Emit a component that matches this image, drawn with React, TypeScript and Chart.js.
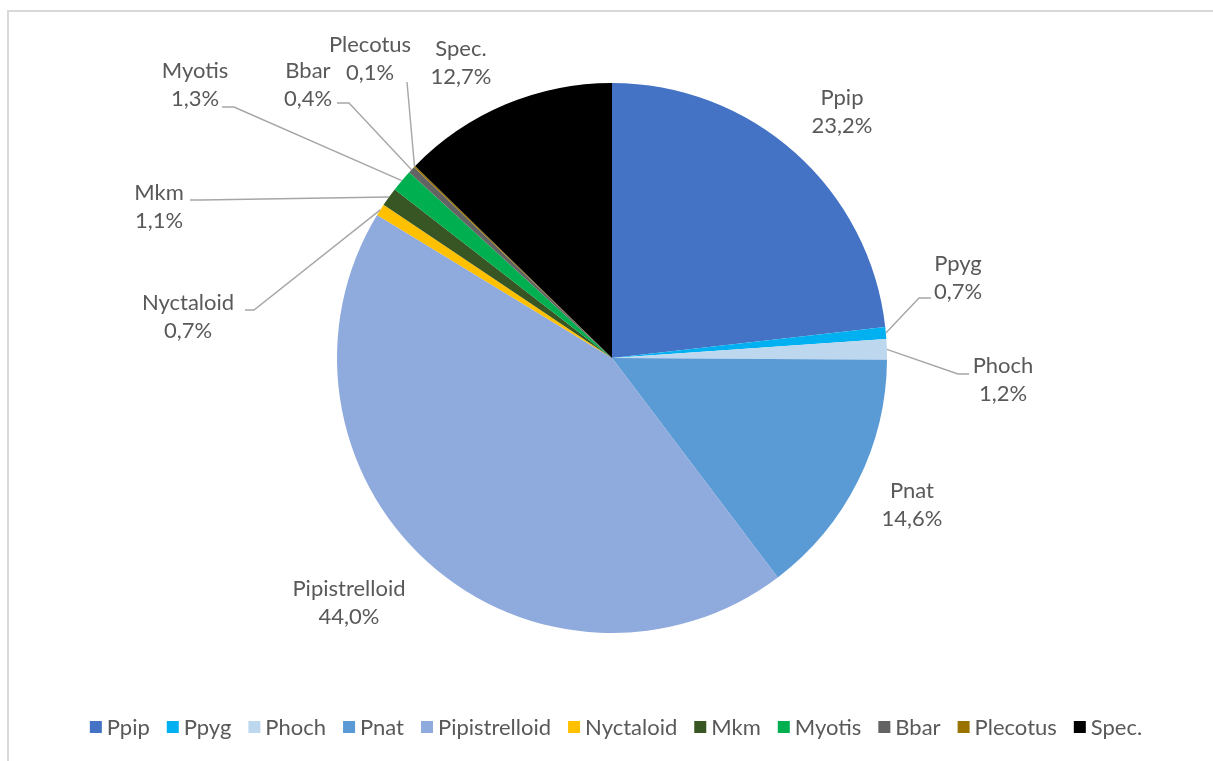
import React, { useEffect, useRef } from 'react';
import { Chart, registerables } from 'chart.js';

Chart.register(...registerables);

const categories = ['Ppip', 'Ppyg', 'Phoch', 'Pnat', 'Pipistrelloid', 'Nyctaloid', 'Mkm', 'Myotis', 'Bbar', 'Plecotus', 'Spec.'];
const shares = [23.2, 0.7, 1.2, 14.6, 44.0, 0.7, 1.1, 1.3, 0.4, 0.1, 12.7];
const shareLabels = ['23,2%', '0,7%', '1,2%', '14,6%', '44,0%', '0,7%', '1,1%', '1,3%', '0,4%', '0,1%', '12,7%'];
const colors = ['#4472C4', '#00B0F0', '#BDD7EE', '#5B9BD5', '#8FAADC', '#FFC000', '#375623', '#00B050', '#636363', '#997300', '#000000'];

// label placement: first text line centre, offset from pie centre (px)
const labelOffsets: [number, number][] = [
  [230, -260], [346, -94], [391, 8], [300, 133], [-263, 231], [-424, -55],
  [-453, -165], [-417, -287], [-304, -287], [-242, -313], [-151, -309],
];
// leader lines: [elbow, end] offsets from pie centre, null = none
const leaders: ([number, number][] | null)[] = [
  null,
  [[307, -60], [319, -60]],
  [[346, 16], [357, 16]],
  null,
  null,
  [[-358, -48], [-367, -48]],
  [[-411, -158], [-422, -158]],
  [[-378, -251], [-390, -251]],
  [[-263, -255], [-275, -255]],
  [[-205, -276], [-205, -276]],
  null,
];

const FONT_FAMILY = 'Lato, "Open Sans", sans-serif';
const FONT_SIZE = 22;
const TEXT_COLOR = '#595959';

const labelPlugin = {
  id: 'pieLabels',
  afterDatasetsDraw(chart: any) {
    const ctx = chart.ctx;
    const meta = chart.getDatasetMeta(0);
    ctx.save();
    meta.data.forEach((arc: any, i: number) => {
      const { x, y, startAngle, endAngle, outerRadius } = arc.getProps(['x', 'y', 'startAngle', 'endAngle', 'outerRadius'], true);
      const mid = (startAngle + endAngle) / 2;
      const lead = leaders[i];
      if (lead) {
        ctx.strokeStyle = '#a6a6a6';
        ctx.lineWidth = 1.4;
        ctx.beginPath();
        ctx.moveTo(x + Math.cos(mid) * outerRadius, y + Math.sin(mid) * outerRadius);
        lead.forEach((p) => ctx.lineTo(x + p[0], y + p[1]));
        ctx.stroke();
      }
      const [dx, dy] = labelOffsets[i];
      ctx.fillStyle = TEXT_COLOR;
      ctx.font = `${FONT_SIZE}px ${FONT_FAMILY}`;
      ctx.textAlign = 'center';
      ctx.textBaseline = 'middle';
      ctx.fillText(categories[i], x + dx, y + dy);
      ctx.fillText(shareLabels[i], x + dx, y + dy + 28);
    });
    ctx.restore();
  },
};

const legendPlugin = {
  id: 'bottomLegend',
  afterDraw(chart: any) {
    const ctx = chart.ctx;
    ctx.save();
    ctx.font = `${FONT_SIZE}px ${FONT_FAMILY}`;
    const box = 12;
    const gapText = 5;
    const gapItem = 17;
    const widths = categories.map((c) => ctx.measureText(c).width);
    const total = widths.reduce((a, w) => a + box + gapText + w, 0) + gapItem * (categories.length - 1);
    const centerX = 616;
    const cy = 727;
    let cx = centerX - total / 2;
    ctx.textAlign = 'left';
    ctx.textBaseline = 'middle';
    categories.forEach((c, i) => {
      ctx.fillStyle = colors[i];
      ctx.fillRect(cx, cy - box / 2, box, box);
      ctx.fillStyle = TEXT_COLOR;
      ctx.fillText(c, cx + box + gapText, cy + 1);
      cx += box + gapText + widths[i] + gapItem;
    });
    ctx.restore();
  },
};

export default function App() {
  const ref = useRef<HTMLCanvasElement>(null);
  useEffect(() => {
    if (!ref.current) return;
    const chart = new Chart(ref.current, {
      type: 'pie',
      data: {
        labels: categories,
        datasets: [{ data: shares, backgroundColor: colors, borderWidth: 0 }],
      },
      options: {
        animation: false,
        responsive: true,
        maintainAspectRatio: false,
        layout: { padding: { left: 11, right: 0, top: 83, bottom: 128 } },
        plugins: { legend: { display: false }, tooltip: { enabled: false } },
      },
      plugins: [labelPlugin, legendPlugin],
    });
    return () => chart.destroy();
  }, []);
  return (
    <div style={{ position: 'absolute', left: 0, top: 0, width: 1213, height: 761, overflow: 'hidden', background: '#fff' }}>
      <div style={{ position: 'absolute', left: 7, top: 10, width: 1206, height: 751, borderTop: '2px solid #d9d9d9', borderLeft: '2px solid #d9d9d9', boxSizing: 'border-box' }} />
      <div style={{ position: 'absolute', left: 0, top: 0, width: 1213, height: 761 }}>
        <canvas ref={ref} />
      </div>
    </div>
  );
}
